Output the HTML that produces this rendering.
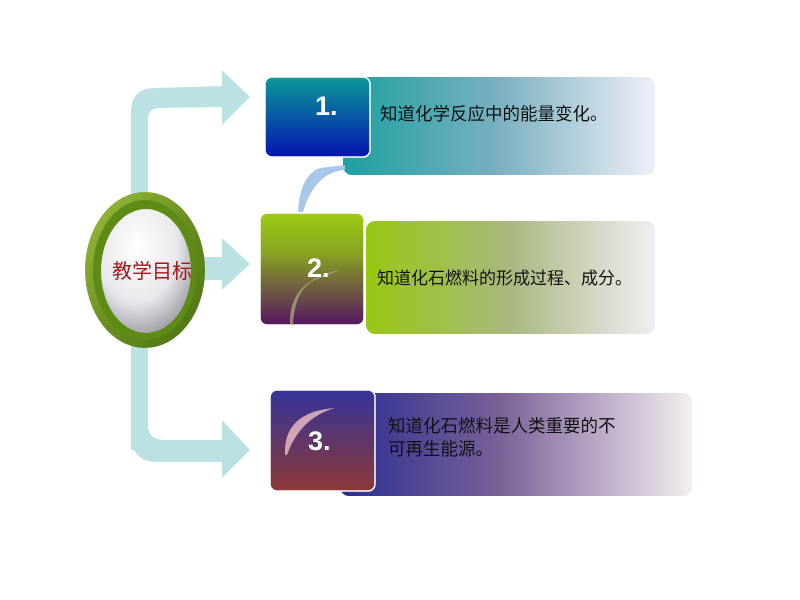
<!DOCTYPE html>
<html><head><meta charset="utf-8"><style>
html,body{margin:0;padding:0;background:#fff;width:800px;height:600px;overflow:hidden}
text{font-family:"Liberation Sans","Noto Sans CJK SC",sans-serif}
</style></head><body>
<svg width="800" height="600" xmlns="http://www.w3.org/2000/svg">
<defs>
<linearGradient id="t1" x1="0" x2="1"><stop offset="0" stop-color="#1ca0a0"/><stop offset="0.5" stop-color="#7ab0c0"/><stop offset="1" stop-color="#eef0f8"/></linearGradient>
<linearGradient id="t2" x1="0" x2="1"><stop offset="0" stop-color="#98c812"/><stop offset="0.5" stop-color="#a8b880"/><stop offset="1" stop-color="#f2eef4"/></linearGradient>
<linearGradient id="t3" x1="0" x2="1"><stop offset="0" stop-color="#2a2e92"/><stop offset="0.45" stop-color="#7a6098"/><stop offset="1" stop-color="#f4eef0"/></linearGradient>
<linearGradient id="b1" x1="0" y1="0" x2="0" y2="1"><stop offset="0" stop-color="#0a9a98"/><stop offset="1" stop-color="#0414b0"/></linearGradient>
<linearGradient id="b2" x1="0" y1="0" x2="0" y2="1"><stop offset="0" stop-color="#9ccc14"/><stop offset="0.35" stop-color="#88a420"/><stop offset="1" stop-color="#561660"/></linearGradient>
<linearGradient id="b3" x1="0" y1="0" x2="0" y2="1"><stop offset="0" stop-color="#34349a"/><stop offset="1" stop-color="#8c3838"/></linearGradient>
<radialGradient id="egg" cx="0.4" cy="0.3" r="0.75"><stop offset="0" stop-color="#ffffff"/><stop offset="0.6" stop-color="#e8e8ec"/><stop offset="1" stop-color="#9a9aa0"/></radialGradient>
<linearGradient id="ring" x1="0" y1="0" x2="1" y2="1"><stop offset="0" stop-color="#9cc040"/><stop offset="0.5" stop-color="#6a9020"/><stop offset="1" stop-color="#4a7010"/></linearGradient>
</defs>
<g fill="#bce1e4">
<path d="M131 450 L131 112 Q131 88 155 88 L222 86 L222 70 L250 97 L222 125 L222 107 L160 108 Q148 108 148 120 L148 450 Z"/>
<rect x="190" y="257" width="34" height="23"/>
<polygon points="222,238 250,264 222,290"/>
<path d="M131 340 L131 435 Q131 462 158 462 L222 462 L222 478 L250 450 L222 420 L222 440 L165 440 Q148 440 148 425 L148 340 Z"/>
</g>
<ellipse cx="145" cy="270" rx="60" ry="78" fill="url(#ring)"/>
<ellipse cx="145" cy="270" rx="52" ry="70" fill="#5e8a16"/>
<ellipse cx="146" cy="271" rx="45" ry="62" fill="url(#egg)"/>
<text x="112" y="278" font-size="20" fill="#a01818">教学目标</text>
<rect x="343" y="77" width="312" height="98" rx="9" fill="url(#t1)"/>
<rect x="366" y="221" width="289" height="113" rx="9" fill="url(#t2)"/>
<rect x="340" y="393" width="352" height="103" rx="9" fill="url(#t3)"/>
<path d="M298 212 Q300 175 320 168 L345 165 L345 170 Q315 172 303 212 Z" fill="#a8c8e8"/>
<rect x="265" y="77" width="105" height="80" rx="7" fill="url(#b1)" stroke="#fff" stroke-width="1.5"/>
<rect x="260" y="213" width="104" height="112" rx="7" fill="url(#b2)" stroke="#fff" stroke-width="1.5"/>
<rect x="270" y="390" width="105" height="101" rx="7" fill="url(#b3)" stroke="#fff" stroke-width="1.5"/>
<path d="M290 325 Q288 280 340 270 L320 278 Q295 285 293 325 Z" fill="#b0b080" opacity="0.7"/>
<path d="M285 455 Q283 412 335 408 Q300 418 287 455 Z" fill="#f0c0c8" opacity="0.8"/>
<text x="315" y="115" font-size="27" font-weight="bold" fill="#fff">1.</text>
<text x="307" y="277" font-size="27" font-weight="bold" fill="#fff">2.</text>
<text x="308" y="450" font-size="27" font-weight="bold" fill="#fff">3.</text>
<text x="380" y="120" font-size="17.5" fill="#111">知道化学反应中的能量变化。</text>
<text x="377" y="284" font-size="17" fill="#111">知道化石燃料的形成过程、成分。</text>
<text x="388" y="432" font-size="17.5" fill="#111">知道化石燃料是人类重要的不</text>
<text x="388" y="455" font-size="17.5" fill="#111">可再生能源。</text>
</svg>
</body></html>
